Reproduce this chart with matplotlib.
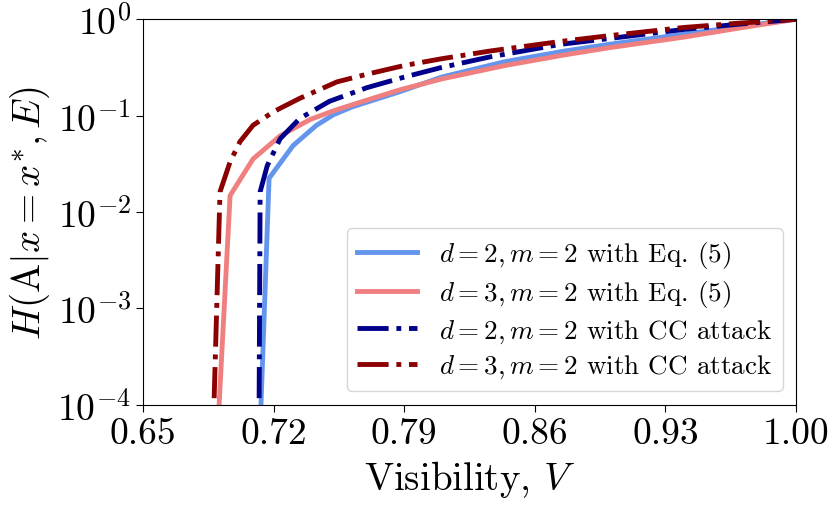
import numpy as np
import matplotlib
matplotlib.use('Agg')
import matplotlib.pyplot as plt
from matplotlib.ticker import NullLocator

plt.rcParams['font.family'] = 'serif'
plt.rcParams['font.serif'] = ['cmr10']
plt.rcParams['mathtext.fontset'] = 'cm'
plt.rcParams['axes.formatter.use_mathtext'] = True

# Eq. (5), d = 2, m = 2
v_eq5_d2 = [0.7114, 0.7176, 0.7305, 0.743, 0.752, 0.762, 0.788, 0.810, 0.844, 0.876, 0.900, 0.940, 0.970, 1.000]
h_eq5_d2 = [1e-5, 0.0224, 0.0490, 0.0794, 0.102, 0.123, 0.178, 0.251, 0.363, 0.468, 0.550, 0.700, 0.841, 1.0]

# Eq. (5), d = 3, m = 2
v_eq5_d3 = [0.6881, 0.6967, 0.709, 0.7235, 0.7396, 0.752, 0.765, 0.788, 0.810, 0.844, 0.876, 0.900, 0.940, 0.970, 1.000]
h_eq5_d3 = [1e-5, 0.0148, 0.0355, 0.0617, 0.0912, 0.112, 0.135, 0.186, 0.240, 0.331, 0.427, 0.507, 0.653, 0.813, 1.0]

# CC attack, d = 2, m = 2
v_cc_d2 = [0.7120, 0.7128, 0.7166, 0.7235, 0.734, 0.750, 0.770, 0.790, 0.810, 0.836, 0.874, 0.900, 0.940, 0.970, 1.000]
h_cc_d2 = [1e-5, 0.0162, 0.0302, 0.0575, 0.0933, 0.141, 0.195, 0.251, 0.316, 0.407, 0.550, 0.631, 0.785, 0.891, 1.0]

# CC attack, d = 3, m = 2
v_cc_d3 = [0.6866, 0.6913, 0.6967, 0.702, 0.709, 0.720, 0.734, 0.754, 0.770, 0.790, 0.810, 0.836, 0.874, 0.900, 0.940, 0.970, 1.000]
h_cc_d3 = [1e-5, 0.0162, 0.0331, 0.0537, 0.0794, 0.110, 0.151, 0.224, 0.269, 0.331, 0.389, 0.468, 0.589, 0.676, 0.822, 0.912, 1.0]

x_ticks = [0.65, 0.72, 0.79, 0.86, 0.93, 1.00]

fig = plt.figure(figsize=(8.31, 5.06), dpi=100)
ax = fig.add_axes([0.172, 0.198, 0.786, 0.762])

lw = 3.5
ax.plot(v_eq5_d2, h_eq5_d2, color='cornflowerblue', lw=lw, label=r'$d=2, m=2$ with Eq. (5)')
ax.plot(v_eq5_d3, h_eq5_d3, color='lightcoral', lw=lw, label=r'$d=3, m=2$ with Eq. (5)')
ax.plot(v_cc_d2, h_cc_d2, color='darkblue', lw=lw, ls='-.', label=r'$d=2, m=2$ with CC attack')
ax.plot(v_cc_d3, h_cc_d3, color='darkred', lw=lw, ls='-.', label=r'$d=3, m=2$ with CC attack')

ax.set_yscale('log')
ax.set_ylim(1e-4, 1)
ax.set_xlim(0.65, 1.0)
ax.set_xticks(x_ticks)
ax.set_xticklabels(['%.2f' % t for t in x_ticks])
ax.yaxis.set_minor_locator(NullLocator())
ax.tick_params(labelsize=27, length=5)

ax.set_xlabel(r'Visibility, $V$', fontsize=28, labelpad=6)
ax.set_ylabel(r'$H(\mathrm{A}|x=x^{*},E)$', fontsize=28)

ax.legend(loc='lower right', fontsize=19.5, handlelength=2.2,
          labelspacing=0.3, borderaxespad=0.5)

fig.savefig('out.png', dpi=100)
